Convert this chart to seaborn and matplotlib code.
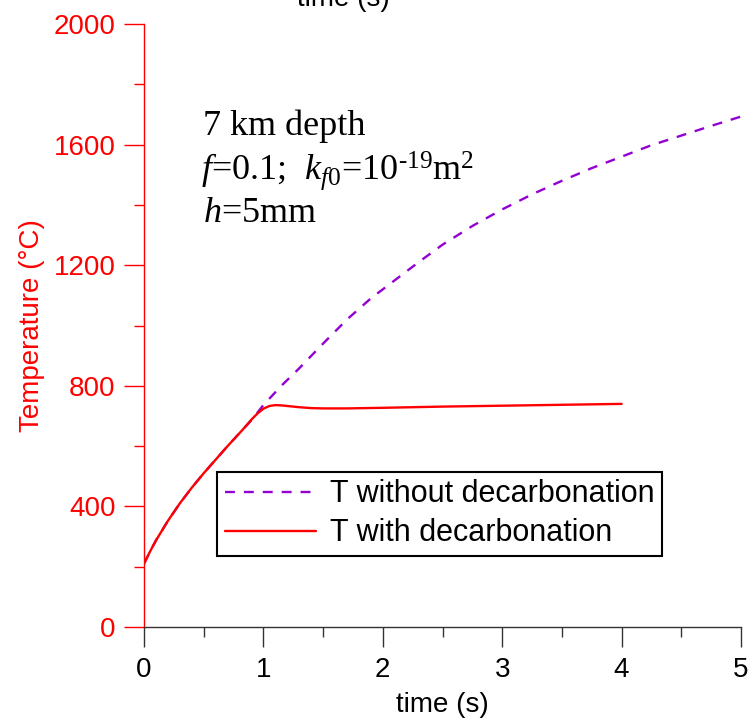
import matplotlib
matplotlib.use("Agg")
import matplotlib.pyplot as plt
import seaborn as sns
import pandas as pd
from matplotlib.ticker import MultipleLocator

# Temperature history without decarbonation (s, °C)
time_nodecarb = [0.0, 0.05, 0.1, 0.2, 0.3, 0.4, 0.5, 0.6, 0.7, 0.8, 0.9, 1.0, 1.15, 1.3,
                 1.5, 1.7, 1.9, 2.1, 2.3, 2.5, 2.75, 3.0, 3.25, 3.5, 3.75, 4.0, 4.25,
                 4.5, 4.75, 5.0]
temp_nodecarb = [210, 250, 287, 352, 410, 462, 510, 555, 600, 643, 686, 736, 800, 858,
                 940, 1020, 1090, 1150, 1210, 1268, 1330, 1385, 1435, 1480, 1522, 1560,
                 1598, 1630, 1662, 1693]

# Temperature history with decarbonation (s, °C)
time_decarb = [0.0, 0.05, 0.1, 0.2, 0.3, 0.4, 0.5, 0.6, 0.7, 0.8, 0.85, 0.9, 0.95, 1.0,
               1.05, 1.1, 1.15, 1.2, 1.3, 1.4, 1.5, 1.7, 2.0, 2.5, 3.0, 3.5, 4.0]
temp_decarb = [210, 250, 287, 352, 410, 462, 510, 555, 600, 643, 665, 688, 708, 724,
               733, 736, 735, 733, 729, 726, 725, 725, 727, 731, 734, 737, 740]

x_ticks = [0, 1, 2, 3, 4, 5]
y_ticks = [0, 400, 800, 1200, 1600, 2000]

sns.set_style("white")
plt.rcParams["font.family"] = ["Liberation Sans", "DejaVu Sans"]
plt.rcParams["text.color"] = "black"
plt.rcParams["axes.labelcolor"] = "black"
plt.rcParams["xtick.color"] = "black"
plt.rcParams["mathtext.fontset"] = "custom"
plt.rcParams["mathtext.rm"] = "Liberation Serif"
plt.rcParams["mathtext.it"] = "Liberation Serif:italic"

fig = plt.figure(figsize=(7.53, 7.19), dpi=100)
ax = fig.add_axes([144 / 753, 1 - 627 / 719, 597 / 753, 603 / 719])

purple = "#9400D3"
red = "#FF0000"

df_no = pd.DataFrame({"time": time_nodecarb, "T": temp_nodecarb})
df_de = pd.DataFrame({"time": time_decarb, "T": temp_decarb})

sns.lineplot(data=df_no, x="time", y="T", ax=ax, color=purple, linewidth=1.7,
             linestyle=(0, (4.2, 3.8)), label="T without decarbonation")
sns.lineplot(data=df_de, x="time", y="T", ax=ax, color=red, linewidth=1.7,
             label="T with decarbonation")

ax.set_xlim(0, 5)
ax.set_ylim(0, 2000)
ax.set_xticks(x_ticks)
ax.set_yticks(y_ticks)
ax.xaxis.set_minor_locator(MultipleLocator(0.5))
ax.yaxis.set_minor_locator(MultipleLocator(200))

for side in ("top", "right"):
    ax.spines[side].set_visible(False)
ax.spines["left"].set_color(red)
ax.spines["bottom"].set_color("#333333")
ax.spines["left"].set_linewidth(1.0)
ax.spines["bottom"].set_linewidth(1.0)

ax.tick_params(axis="x", which="major", direction="out", length=14.4, width=1,
               color="#333333", labelcolor="black", labelsize=20, pad=7, bottom=True)
ax.tick_params(axis="x", which="minor", direction="out", length=7.2, width=1,
               color="#333333", bottom=True)
ax.tick_params(axis="y", which="major", direction="out", length=14.4, width=1,
               color=red, labelcolor=red, labelsize=20, pad=6, left=True)
ax.tick_params(axis="y", which="minor", direction="out", length=7.2, width=1,
               color=red, left=True)

ax.set_xlabel("time (s)", fontsize=20, labelpad=7)
ax.set_ylabel("Temperature (°C)", fontsize=20, color=red, labelpad=6)

# secondary axis title clipped at the top edge
fig.text(343 / 753, 1 - 6 / 719, "time (s)", fontsize=20, ha="center",
         va="baseline")

serif = ["Liberation Serif", "DejaVu Serif"]
ax.text(203, 719 - 135, "7 km depth", transform=None, fontsize=26,
        family=serif, va="baseline", ha="left")
ax.text(201, 719 - 180, r"$f$=0.1;  $k_{f0}$=10$^{\text{-19}}$m$^2$",
        transform=None, fontsize=26, family=serif, va="baseline", ha="left")
ax.text(203, 719 - 222, r"$h$=5mm", transform=None, fontsize=26,
        family=serif, va="baseline", ha="left")

leg = ax.legend(loc="lower left", bbox_to_anchor=(217 / 753, 1 - 556 / 719),
                bbox_transform=fig.transFigure, borderaxespad=0, fontsize=22,
                frameon=True, fancybox=False, framealpha=1, edgecolor="black",
                handlelength=3.0, handletextpad=0.45, labelspacing=0.3,
                borderpad=0.25)
leg.get_frame().set_linewidth(1.5)

fig.savefig("out.png", dpi=100)
